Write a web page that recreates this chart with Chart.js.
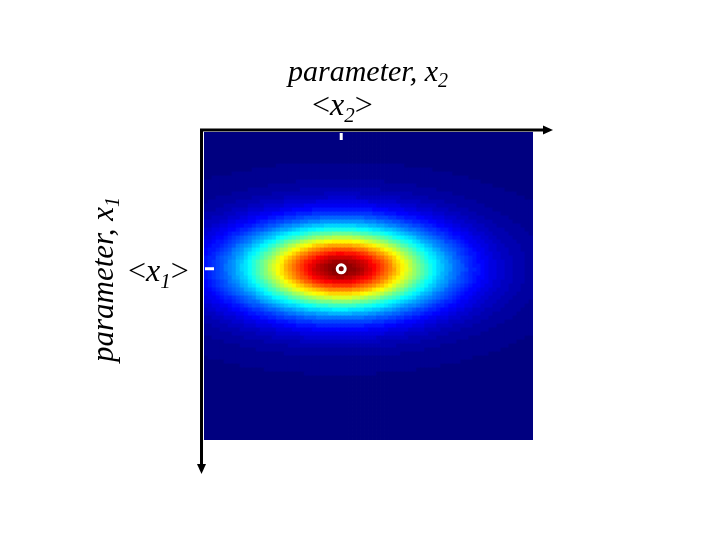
<!DOCTYPE html>
<html>
<head>
<meta charset="utf-8">
<script src="https://cdn.jsdelivr.net/npm/chart.js@4.4.1/dist/chart.umd.min.js"></script>
<style>
  html, body { margin: 0; padding: 0; background: #fff; }
  canvas { display: block; }
</style>
</head>
<body>
<canvas id="chart" width="720" height="540"></canvas>
<script>
// grid of the density image (cells along x2 and x1)
const gridX2 = 82;
const gridX1 = 77;

// peak position, spread (grid units) and tail shape
const meanX2 = [34.2];
const meanX1 = [34.2];
const scaleX2 = [15.8];
const scaleX1 = [6.9];
const tailShape = [6];

// axis labels
const axisLabels = ['parameter, x', 'parameter, x'];
const axisSubs = ['2', '1'];
const meanLabels = ['x', 'x'];

// MATLAB style jet, 64 levels
function jet(v) {
    v = Math.round(Math.max(0, Math.min(1, v)) * 63) / 63;
    const r = Math.max(0, Math.min(1, Math.min(4 * v - 1.5, -4 * v + 4.5)));
    const g = Math.max(0, Math.min(1, Math.min(4 * v - 0.5, -4 * v + 3.5)));
    const b = Math.max(0, Math.min(1, Math.min(4 * v + 0.5, -4 * v + 2.5)));
    return 'rgb(' + Math.round(r * 255) + ',' + Math.round(g * 255) + ',' + Math.round(b * 255) + ')';
}

const cells = [];
const cellColors = [];
for (let j = 0; j < gridX1; j++) {
    for (let i = 0; i < gridX2; i++) {
        const x = i + 0.5, y = j + 0.5;
        const dx = (x - meanX2[0]) / scaleX2[0];
        const dy = (y - meanX1[0]) / scaleX1[0];
        const nu = tailShape[0];
        const v = Math.pow(1 + (dx * dx + dy * dy) / (2 * nu), -nu);
        cells.push({ x: x, y: y });
        cellColors.push(jet(v));
    }
}

function cellRadius(ctx) {
    const area = ctx.chart.chartArea;
    if (!area) return 3;
    const w = (area.right - area.left) / gridX2;
    const h = (area.bottom - area.top) / gridX1;
    return (Math.max(w, h) + 0.8) * Math.SQRT1_2;
}

function drawSubText(c, parts, x, y) {
    // parts: [text, font, dy]
    let cx = x;
    parts.forEach(p => {
        c.font = p[1];
        c.fillText(p[0], cx, y + p[2]);
        cx += c.measureText(p[0]).width;
    });
}

const axesPlugin = {
    id: 'axesPlugin',
    afterDraw(chart) {
        const c = chart.ctx;
        const a = chart.chartArea;
        const sx = chart.scales.x, sy = chart.scales.y;
        const serif = '"Liberation Serif", "Times New Roman", serif';
        c.save();

        // axis arrows
        c.strokeStyle = '#000';
        c.fillStyle = '#000';
        c.lineWidth = 3;
        c.beginPath();
        c.moveTo(a.left - 4, a.top - 2);
        c.lineTo(a.right + 12, a.top - 2);
        c.moveTo(a.left - 2.5, a.top - 3.5);
        c.lineTo(a.left - 2.5, a.bottom + 26);
        c.stroke();
        c.beginPath();
        c.moveTo(a.right + 20, a.top - 2);
        c.lineTo(a.right + 10, a.top - 6.5);
        c.lineTo(a.right + 10, a.top + 2.5);
        c.closePath();
        c.fill();
        c.beginPath();
        c.moveTo(a.left - 2.5, a.bottom + 34);
        c.lineTo(a.left - 7, a.bottom + 24);
        c.lineTo(a.left + 2, a.bottom + 24);
        c.closePath();
        c.fill();

        // tick marks at the means
        const px = sx.getPixelForValue(meanX2[0]);
        const py = sy.getPixelForValue(meanX1[0]);
        c.strokeStyle = '#fff';
        c.lineWidth = 3;
        c.beginPath();
        c.moveTo(px, a.top + 1);
        c.lineTo(px, a.top + 8);
        c.moveTo(a.left + 1, py);
        c.lineTo(a.left + 10, py);
        c.stroke();

        // labels
        c.fillStyle = '#000';
        c.textBaseline = 'alphabetic';
        c.textAlign = 'left';
        drawSubText(c, [[axisLabels[0], 'italic 30px ' + serif, 0], [axisSubs[0], 'italic 20px ' + serif, 6]], 288, 81);
        const meanParts = (k) => [['<', '32px ' + serif, 0], [meanLabels[k], 'italic 32px ' + serif, 0],
            [axisSubs[k], 'italic 21px ' + serif, 7], ['>', '32px ' + serif, 0]];
        drawSubText(c, meanParts(0), 312, 115);
        drawSubText(c, meanParts(1), 128, 281);
        c.translate(113, 362);
        c.rotate(-Math.PI / 2);
        drawSubText(c, [[axisLabels[1], 'italic 31px ' + serif, 0], [axisSubs[1], 'italic 20px ' + serif, 6]], 0, 0);
        c.restore();
    }
};

new Chart(document.getElementById('chart'), {
    type: 'scatter',
    data: {
        datasets: [
            {
                label: 'mean',
                order: 0,
                data: [{ x: meanX2[0], y: meanX1[0] }],
                pointStyle: 'circle',
                pointRadius: 4,
                pointBorderWidth: 3,
                pointBorderColor: '#fff',
                pointBackgroundColor: 'rgba(0,0,0,0)',
                clip: 0
            },
            {
                label: 'density',
                order: 1,
                data: cells,
                pointStyle: 'rect',
                pointRadius: cellRadius,
                pointBorderWidth: 0,
                pointBackgroundColor: cellColors,
                pointBorderColor: cellColors,
                clip: 0
            }
        ]
    },
    options: {
        responsive: false,
        animation: false,
        events: [],
        layout: { padding: { left: 204, top: 132, right: 187, bottom: 100 } },
        plugins: {
            legend: { display: false },
            tooltip: { enabled: false }
        },
        scales: {
            x: { type: 'linear', min: 0, max: gridX2, display: false },
            y: { type: 'linear', min: 0, max: gridX1, reverse: true, display: false }
        }
    },
    plugins: [axesPlugin]
});
</script>
</body>
</html>
